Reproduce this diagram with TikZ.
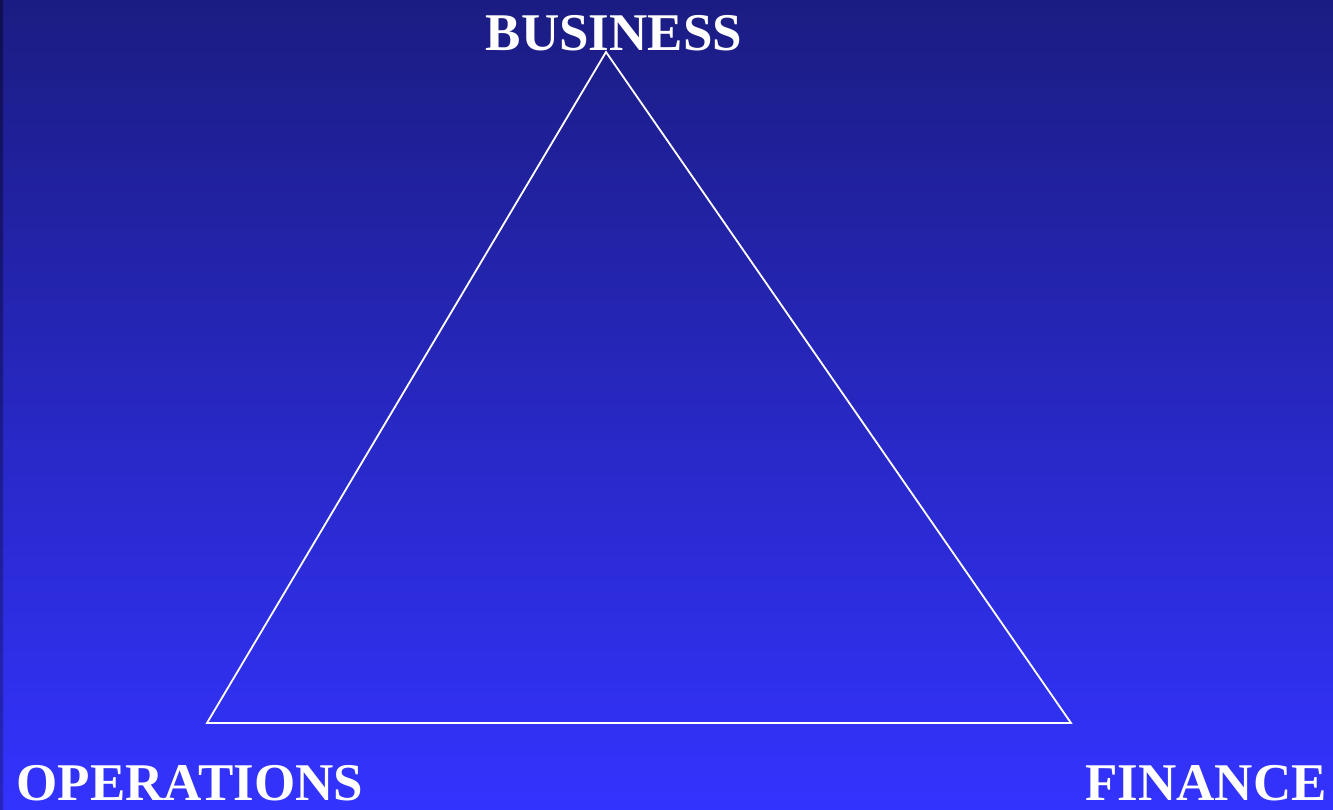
\documentclass[tikz,border=0pt]{standalone}
\usepackage{fontspec}
\setmainfont{Liberation Serif}
\begin{document}
\begin{tikzpicture}[x=1pt,y=-1pt,
  lbl/.style={text=white,font=\fontsize{53}{60}\selectfont\bfseries,anchor=base,inner sep=0pt},
  edge/.style={draw=white,line width=1.8pt}]
\definecolor{topc}{RGB}{27,28,130}
\definecolor{botc}{RGB}{51,51,255}
\definecolor{stripc}{RGB}{18,18,100}
\useasboundingbox (0,0) rectangle (1333,809);
\shade[top color=topc,bottom color=botc] (0,0) rectangle (1333,809);
\shade[top color=stripc!80!black,bottom color=botc!75!black] (0,0) rectangle (3,809);
\coordinate (b) at (606,52);
\coordinate (o) at (207,723);
\coordinate (f) at (1071,723);
\draw[edge] (b) -- (f) -- (o) -- cycle;
\node[lbl] (business) at (614,50) {BUSINESS};
\node[lbl] (operations) at (190,800) {OPERATIONS};
\node[lbl] (finance) at (1206,800) {FINANCE};
\end{tikzpicture}
\end{document}
